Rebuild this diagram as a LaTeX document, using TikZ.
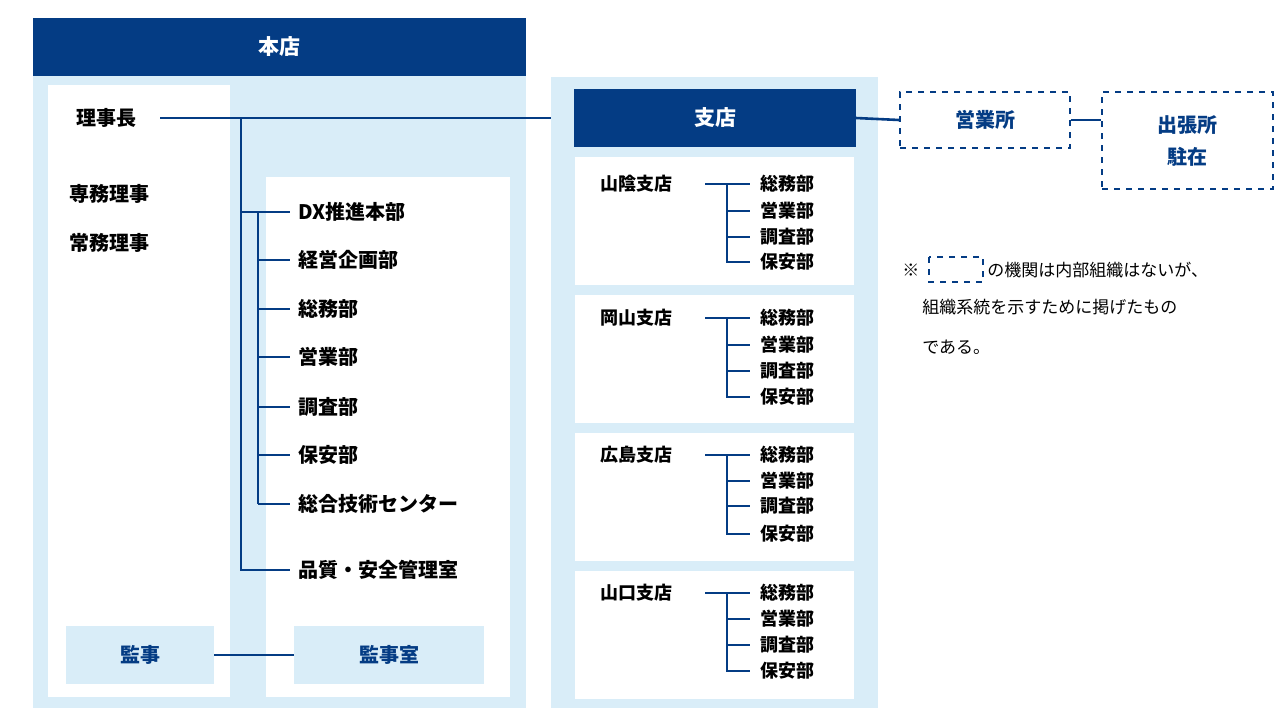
\documentclass[tikz,border=0pt]{standalone}
\usepackage{fontspec}
\setmainfont{Noto Sans CJK JP}
\usepackage{xcolor}
\definecolor{navy}{HTML}{043C84}
\definecolor{pale}{HTML}{D9EDF8}
\usetikzlibrary{positioning}

\begin{document}
\begin{tikzpicture}[x=0.5pt, y=-0.5pt,
  line/.style={navy, line width=1.3pt},
  lbl/.style={anchor=west, inner sep=0pt, font=\bfseries\fontsize{10}{12}\selectfont},
  sub/.style={anchor=west, inner sep=0pt, font=\bfseries\fontsize{9}{10}\selectfont},
  dbox/.style={draw=navy, dashed, line width=0.7pt, text=navy, font=\bfseries\fontsize{10}{12}\selectfont}]
  \useasboundingbox (0,0) rectangle (1280,720);

  % --- head office ---
  \fill[pale] (33,76) rectangle (526,708);
  \fill[navy] (33,18) rectangle (526,76);
  \node[text=white, font=\bfseries\fontsize{10.5}{12}\selectfont] (honten) at (279,47) {本店};
  \fill[white] (48,85) rectangle (230,697);
  \fill[white] (266,177) rectangle (510,697);
  \node[lbl] (rijicho) at (76,118) {理事長};
  \node[lbl] at (69,194) {専務理事};
  \node[lbl] at (69,243) {常務理事};
  \foreach \t/\y [count=\i] in {DX推進本部/212, 経営企画部/260, 総務部/309, 営業部/357,
      調査部/407, 保安部/455, 総合技術センター/504, 品質・安全管理室/570}
    \node[lbl] (dep\i) at (298,\y) {\t};
  \fill[pale] (66,626) rectangle (214,684);
  \node[text=navy, font=\bfseries\fontsize{10}{12}\selectfont] (kanji) at (140,655) {監事};
  \fill[pale] (294,626) rectangle (484,684);
  \node[text=navy, font=\bfseries\fontsize{10}{12}\selectfont] (kanjishitsu) at (389,655) {監事室};
  \draw[line] (214,655) -- (294,655);

  % connectors of head office
  \coordinate (top) at (241,118);
  \draw[line] (160,118) -- (574,118);
  \draw[line] (top) -- (241,570) -- (290,570);
  \draw[line] (241,212) -- (290,212);
  \draw[line] (258,212) -- (258,504);
  \foreach \y in {260,309,357,407,455,504}
    \draw[line] (258,\y) -- (290,\y);

  % --- branches ---
  \fill[pale] (551,77) rectangle (878,708);
  \fill[navy] (574,89) rectangle (856,147);
  \node[text=white, font=\bfseries\fontsize{10.5}{12}\selectfont] (shiten) at (715,118) {支店};
  \foreach \n/\top/\a/\b/\c/\d in {山陰支店/157/27/54/80/105, 岡山支店/295/23/50/76/102,
      広島支店/433/22/48/73/101, 山口支店/571/22/48/74/100} {
    \fill[white] (575,\top) rectangle (854,\top+128);
    \node[sub] at (600,\top+\a) {\n};
    \draw[line] (705,\top+\a) -- (750,\top+\a);
    \draw[line] (727,\top+\a) -- (727,\top+\d) -- (750,\top+\d);
    \draw[line] (727,\top+\b) -- (750,\top+\b);
    \draw[line] (727,\top+\c) -- (750,\top+\c);
    \foreach \t/\y in {総務部/\a, 営業部/\b, 調査部/\c, 保安部/\d}
      \node[sub] at (760,\top+\y) {\t};
  }

  % --- offices ---
  \node[dbox, minimum width=85pt, minimum height=28pt] (eigyo) at (985,120) {営業所};
  \node[dbox, minimum width=85.5pt, minimum height=48.5pt, align=center] (shutcho) at (1187.5,140.5)
    {出張所\\[4pt]駐在};
  \draw[line] (856,118) -- (eigyo.west);
  \draw[line] (eigyo.east) -- (eigyo.east -| shutcho.west);

  % --- note ---
  \begin{scope}[font=\fontsize{8.5}{10}\selectfont]
  \node[anchor=west, inner sep=0pt] at (902,270) {※};
  \draw[navy, dashed, line width=0.7pt] (929,257) rectangle (983,282);
  \node[anchor=west, inner sep=0pt] at (987,270) {の機関は内部組織はないが、};
  \node[anchor=west, inner sep=0pt] at (922,307) {組織系統を示すために掲げたもの};
  \node[anchor=west, inner sep=0pt] at (922,347) {である。};
  \end{scope}
\end{tikzpicture}
\end{document}
